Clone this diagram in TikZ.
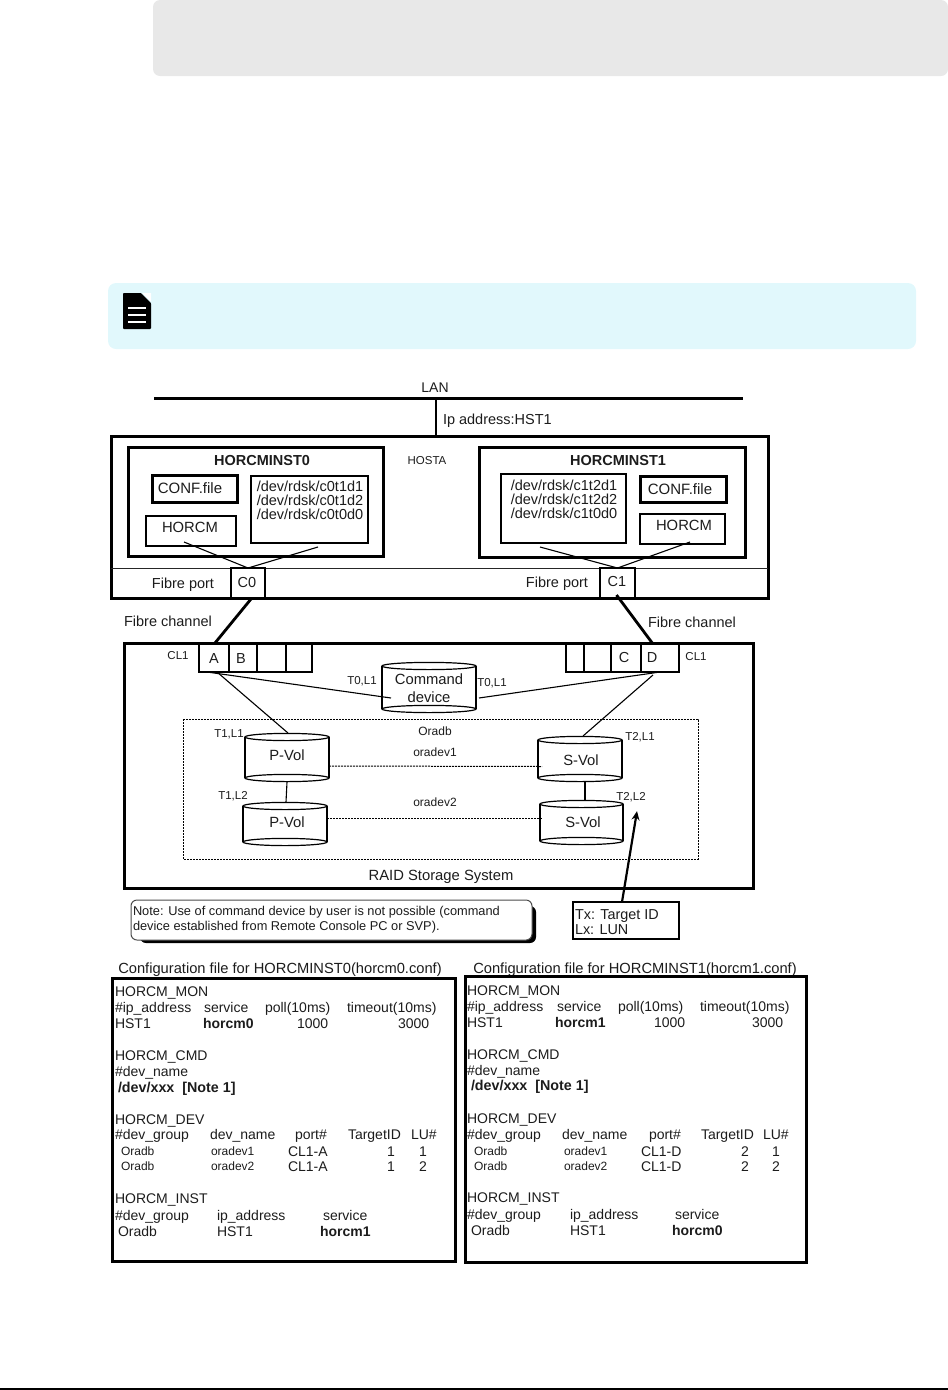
\documentclass[tikz,border=0pt]{standalone}
\usepackage{fontspec}
\setmainfont{Liberation Sans}
\usetikzlibrary{fit,arrows.meta}
\definecolor{ink}{HTML}{1C1C1C}
\definecolor{banner}{HTML}{E8E8E8}
\definecolor{notebg}{HTML}{E1F8FC}
\tikzset{
  fs/.style={font=\fontsize{#1}{#1}\selectfont,text height=0.72*#1pt,text depth=0pt,inner sep=0pt,outer sep=0pt,text=ink},
  fsb/.style={font=\fontsize{#1}{#1}\selectfont\bfseries,text height=0.72*#1pt,text depth=0pt,inner sep=0pt,outer sep=0pt,text=ink},
  ml/.style={font=\fontsize{#1}{14}\selectfont,align=center,inner sep=0pt,outer sep=0pt,text=ink},
  lt/.style={anchor=west},
  thinbox/.style={draw=black,line width=1.1pt},
  thickbox/.style={draw=black,line width=3pt},
  wire/.style={draw=black,line width=1.1pt},
  trunk/.style={draw=black,line width=2.8pt},
  pair/.style={draw=black,line width=1pt,dash pattern=on 2pt off 1pt},
}
% style, name, x1, y1, x2, y2
\newcommand{\bx}[6]{%
  \node[fit={(#3,#4)(#5,#6)},inner sep=0pt,outer sep=0pt] (#2) {};
  \draw[#1] (#2.north west) rectangle (#2.south east);}
% name, x1, y1, x2, y2
\newcommand{\cyl}[5]{%
  \node[fit={(#2,#3)(#4,#5)},inner sep=0pt,outer sep=0pt] (#1) {};
  \fill[white] (#1.north west) rectangle (#1.south east);
  \draw[line width=1.2pt,black] ([yshift=-4pt]#1.north west) -- ([yshift=4pt]#1.south west);
  \draw[line width=1.2pt,black] ([yshift=-4pt]#1.north east) -- ([yshift=4pt]#1.south east);
  \draw[line width=1.2pt,black] ([yshift=-4pt]#1.north) ellipse [x radius={(#4-#2)/2},y radius=3.6];
  \draw[line width=1.2pt,black] ([yshift=4pt]#1.south) ellipse [x radius={(#4-#2)/2},y radius=3.6];
}
\begin{document}
\begin{tikzpicture}[x=1pt,y=-1pt]
\useasboundingbox (0,0) rectangle (948,1390);
% page furniture
\fill[banner,rounded corners=7pt] (153,0) rectangle (948,76);
\fill[notebg,rounded corners=8pt] (108,283) rectangle (916,349);
\fill[black,rounded corners=0.8pt] (123,293) -- (141,293) -- (151,303) -- (151,329) -- (123,329) -- cycle;
\fill[white] (142.5,293) -- (151,293) -- (151,301.5) -- cycle;
\foreach \yy in {308,315,322} \draw[white,line width=1.6pt] (128,\yy) -- (146,\yy);
\fill[black] (0,1388) rectangle (948,1390);

% LAN and host
\coordinate (lanL) at (154,398.5);
\coordinate (lanR) at (743,398.5);
\draw[trunk] (lanL) -- (lanR);
\node[fs=14] (lanlbl) at (435,387) {LAN};
\node[fs=14.5,lt] (iplbl) at (443,419) {Ip address:HST1};
\bx{thickbox}{host}{111}{436}{768}{598}
\coordinate (lanDrop) at (436,398.5);
\draw[trunk] (lanDrop) -- (lanDrop |- host.north);
\draw[line width=1pt,black!85] (111,568) -- (768,568);
\node[fs=11.5] (hostlbl) at (427,460) {HOSTA};

% instance 0
\bx{thickbox}{inst0}{128.5}{447}{383}{556}
\node[fsb=14.5] (inst0t) at (262,460) {HORCMINST0};
\bx{thickbox}{conf0}{152}{475}{237}{502}
\node[fs=15] (conf0t) at (190,488) {CONF.file};
\bx{thinbox}{horcm0}{146}{516}{236}{546}
\node[fs=14.8] (horcm0t) at (190,527) {HORCM};
\bx{thinbox}{dev0}{251}{476}{368}{543}
\node[ml=14.5] (dev0t) at (310,500) {/dev/rdsk/c0t1d1\\/dev/rdsk/c0t1d2\\/dev/rdsk/c0t0d0};
\node[fs=14.5] (fp0) at (183,583) {Fibre port};
\bx{thinbox}{c0}{231}{568}{265}{598}
\node[fs=14.5] (c0t) at (247,582) {C0};
\draw[wire] ([xshift=-7pt,yshift=4pt]horcm0.south) -- (c0.north) -- ([xshift=8.5pt,yshift=-4pt]dev0.south);

% instance 1
\bx{thickbox}{inst1}{479}{447}{745}{557}
\node[fsb=14.5] (inst1t) at (618,460) {HORCMINST1};
\bx{thinbox}{dev1}{501}{474}{626}{543}
\node[ml=14.5] (dev1t) at (564,499) {/dev/rdsk/c1t2d1\\/dev/rdsk/c1t2d2\\/dev/rdsk/c1t0d0};
\bx{thickbox}{conf1}{640}{476}{726}{502}
\node[fs=15] (conf1t) at (680,489) {CONF.file};
\bx{thinbox}{horcm1}{640}{514}{725}{544}
\node[fs=14.8] (horcm1t) at (684,525) {HORCM};
\node[fs=14.5] (fp1) at (557,582) {Fibre port};
\bx{thinbox}{c1}{600}{568}{635}{598}
\node[fs=14.5] (c1t) at (617,581) {C1};
\draw[wire] ([xshift=-23.5pt,yshift=-4pt]dev1.south) -- (c1.north) -- ([xshift=7.5pt,yshift=2pt]horcm1.south);

% fibre channel
\node[fs=14.5] (fcL) at (168,621) {Fibre channel};
\node[fs=14.5] (fcR) at (692,622) {Fibre channel};

% storage system
\bx{thickbox}{raid}{124}{643}{753}{888}
\node[fs=14.8] (raidt) at (441,875) {RAID Storage System};
\node[fs=11.5] (cl1L) at (178,655) {CL1};
\node[fs=11.5] (cl1R) at (696,656) {CL1};
\bx{thinbox}{pA}{199}{643}{229}{672}
\bx{thinbox}{pB}{229}{643}{257}{672}
\bx{thinbox}{pE}{257}{643}{286}{672}
\bx{thinbox}{pF}{286}{643}{312}{672}
\node[fs=14.5] (pAt) at (214,658) {A};
\node[fs=14.5] (pBt) at (241,658) {B};
\bx{thinbox}{pG}{566}{643}{584}{672}
\bx{thinbox}{pH}{584}{643}{611}{672}
\bx{thinbox}{pC}{611}{643}{641}{672}
\bx{thinbox}{pD}{641}{643}{679}{672}
\node[fs=14.5] (pCt) at (624,657) {C};
\node[fs=14.5] (pDt) at (652,657) {D};
\draw[trunk] ([xshift=3pt,yshift=-1pt]c0.south) -- ([xshift=1pt]pA.north);
\draw[trunk] ([xshift=-1pt,yshift=3pt]c1.south) -- ([xshift=-7pt,yshift=-1pt]pD.north);

% dashed group
\draw[pair] (183,719) rectangle (698,859);
\node[fs=12] (oradb) at (435,731) {Oradb};
\node[fs=12] (od1) at (435,752) {oradev1};
\node[fs=12] (od2) at (435,802) {oradev2};

% volumes
\cyl{cmd}{382}{662}{476}{713}
\node[fs=14.8] (cmdt1) at (429,679) {Command};
\node[fs=14.8] (cmdt2) at (429,697) {device};
\node[fs=11.5] (t01L) at (362,680) {T0,L1};
\node[fs=11.5] (t01R) at (492,682) {T0,L1};
\cyl{p1}{245}{733}{329}{782}
\node[fs=14.8] (p1t) at (287,755) {P-Vol};
\node[fs=11.5] (t11) at (229,733) {T1,L1};
\cyl{p2}{243}{802}{327}{846}
\node[fs=14.8] (p2t) at (287,822) {P-Vol};
\node[fs=11.5] (t12) at (233,795) {T1,L2};
\cyl{s1}{538}{736}{622}{782}
\node[fs=14.8] (s1t) at (581,760) {S-Vol};
\node[fs=11.5] (t21) at (640,736) {T2,L1};
\cyl{s2}{540}{800}{623}{845}
\node[fs=14.8] (s2t) at (583,822) {S-Vol};
\node[fs=11.5] (t22) at (631,796) {T2,L2};
\draw[wire] ([xshift=-7pt]pA.south) -- ([xshift=9pt,yshift=-10.5pt]cmd.west);
\draw[wire] ([xshift=-19pt]pD.south east) -- ([xshift=3pt,yshift=-10.5pt]cmd.east);
\draw[wire] ([xshift=3pt]pA.south) -- ([xshift=1pt]p1.north);
\draw[wire] ([xshift=-7pt,yshift=-3pt]pD.south) -- ([xshift=3pt]s1.north);
\draw[wire] (p1.south) -- ([xshift=1pt]p2.north);
\draw[wire] ([xshift=5pt]s1.south) -- ([xshift=3.5pt]s2.north);
\draw[pair] ([yshift=-8.5pt]p1.east) -- ([xshift=4pt,yshift=-7.5pt]s1.west);
\draw[pair] ([yshift=6pt]p2.east) -- ([xshift=2pt,yshift=4.5pt]s2.west);

% note + legend
\fill[black,rounded corners=6pt] (140,906) rectangle (536,943);
\node[draw=black!70,line width=1pt,fill=white,rounded corners=6pt,fit={(131,900)(532,940)},inner sep=0pt,outer sep=0pt] (note) {};
\node[fs=12.8,lt] (note1) at (133,911) {Note: Use of command device by user is not possible (command};
\node[fs=12.8,lt] (note2) at (133,926) {device established from Remote Console PC or SVP).};
\bx{thinbox}{legend}{573}{902}{679}{939}
\node[fs=14.4,lt] (leg1) at (575,914) {Tx: Target ID};
\node[fs=14.4,lt] (leg2) at (575,929) {Lx: LUN};
\draw[line width=2.2pt,black,-{Stealth[length=9pt,width=8pt]}] ([xshift=-4pt]legend.north) -- ([xshift=6pt,yshift=-11pt]t22.south);

% config file 0
\node[fs=14.7] (cfg0t) at (280,968) {Configuration file for HORCMINST0(horcm0.conf)};
\bx{thickbox}{cfg0}{112}{978}{455}{1261}
\node[fs=14,lt] (a1) at (115,991) {HORCM\_MON};
\node[fs=14,lt] (a2) at (115,1007) {\#ip\_address};
\node[fs=14,lt] (a3) at (204,1007) {service};
\node[fs=14,lt] (a4) at (265,1007) {poll(10ms)};
\node[fs=14,lt] (a5) at (347,1007) {timeout(10ms)};
\node[fs=14,lt] (a6) at (115,1023) {HST1};
\node[fsb=14,lt] (a7) at (203,1023) {horcm0};
\node[fs=14,lt] (a8) at (297,1023) {1000};
\node[fs=14,lt] (a9) at (398,1023) {3000};
\node[fs=14,lt] (a10) at (115,1055) {HORCM\_CMD};
\node[fs=14,lt] (a11) at (115,1071) {\#dev\_name};
\node[fsb=14.3,lt] (a12) at (118,1087) {/dev/xxx\ \ [Note 1]};
\node[fs=14,lt] (a13) at (115,1119) {HORCM\_DEV};
\node[fs=14,lt] (a14) at (115,1134) {\#dev\_group};
\node[fs=14,lt] (a15) at (210,1134) {dev\_name};
\node[fs=14,lt] (a16) at (295,1134) {port\#};
\node[fs=14,lt] (a17) at (348,1134) {TargetID};
\node[fs=14,lt] (a18) at (411,1134) {LU\#};
\node[fs=12,lt] (a19) at (121,1151) {Oradb};
\node[fs=12,lt] (a20) at (211,1151) {oradev1};
\node[fs=14,lt] (a21) at (288,1151) {CL1-A};
\node[fs=14] (a22) at (391,1151) {1};
\node[fs=14] (a23) at (423,1151) {1};
\node[fs=12,lt] (a24) at (121,1166) {Oradb};
\node[fs=12,lt] (a25) at (211,1166) {oradev2};
\node[fs=14,lt] (a26) at (288,1166) {CL1-A};
\node[fs=14] (a27) at (391,1166) {1};
\node[fs=14] (a28) at (423,1166) {2};
\node[fs=14,lt] (a29) at (115,1198) {HORCM\_INST};
\node[fs=14,lt] (a30) at (115,1215) {\#dev\_group};
\node[fs=14,lt] (a31) at (217,1215) {ip\_address};
\node[fs=14,lt] (a32) at (323,1215) {service};
\node[fs=14,lt] (a33) at (118,1231) {Oradb};
\node[fs=14,lt] (a34) at (217,1231) {HST1};
\node[fsb=14,lt] (a35) at (320,1231) {horcm1};

% config file 1
\node[fs=14.7] (cfg1t) at (635,968) {Configuration file for HORCMINST1(horcm1.conf)};
\bx{thickbox}{cfg1}{465}{976}{806}{1262}
\node[fs=14,lt] (b1) at (467,990) {HORCM\_MON};
\node[fs=14,lt] (b2) at (467,1006) {\#ip\_address};
\node[fs=14,lt] (b3) at (557,1006) {service};
\node[fs=14,lt] (b4) at (618,1006) {poll(10ms)};
\node[fs=14,lt] (b5) at (700,1006) {timeout(10ms)};
\node[fs=14,lt] (b6) at (467,1022) {HST1};
\node[fsb=14,lt] (b7) at (555,1022) {horcm1};
\node[fs=14,lt] (b8) at (654,1022) {1000};
\node[fs=14,lt] (b9) at (752,1022) {3000};
\node[fs=14,lt] (b10) at (467,1054) {HORCM\_CMD};
\node[fs=14,lt] (b11) at (467,1070) {\#dev\_name};
\node[fsb=14.3,lt] (b12) at (471,1085) {/dev/xxx\ \ [Note 1]};
\node[fs=14,lt] (b13) at (467,1118) {HORCM\_DEV};
\node[fs=14,lt] (b14) at (467,1134) {\#dev\_group};
\node[fs=14,lt] (b15) at (562,1134) {dev\_name};
\node[fs=14,lt] (b16) at (649,1134) {port\#};
\node[fs=14,lt] (b17) at (701,1134) {TargetID};
\node[fs=14,lt] (b18) at (763,1134) {LU\#};
\node[fs=12,lt] (b19) at (474,1151) {Oradb};
\node[fs=12,lt] (b20) at (564,1151) {oradev1};
\node[fs=14,lt] (b21) at (641,1151) {CL1-D};
\node[fs=14] (b22) at (745,1151) {2};
\node[fs=14] (b23) at (776,1151) {1};
\node[fs=12,lt] (b24) at (474,1166) {Oradb};
\node[fs=12,lt] (b25) at (564,1166) {oradev2};
\node[fs=14,lt] (b26) at (641,1166) {CL1-D};
\node[fs=14] (b27) at (745,1166) {2};
\node[fs=14] (b28) at (776,1166) {2};
\node[fs=14,lt] (b29) at (467,1197) {HORCM\_INST};
\node[fs=14,lt] (b30) at (467,1214) {\#dev\_group};
\node[fs=14,lt] (b31) at (570,1214) {ip\_address};
\node[fs=14,lt] (b32) at (675,1214) {service};
\node[fs=14,lt] (b33) at (471,1230) {Oradb};
\node[fs=14,lt] (b34) at (570,1230) {HST1};
\node[fsb=14,lt] (b35) at (672,1230) {horcm0};
\end{tikzpicture}
\end{document}
